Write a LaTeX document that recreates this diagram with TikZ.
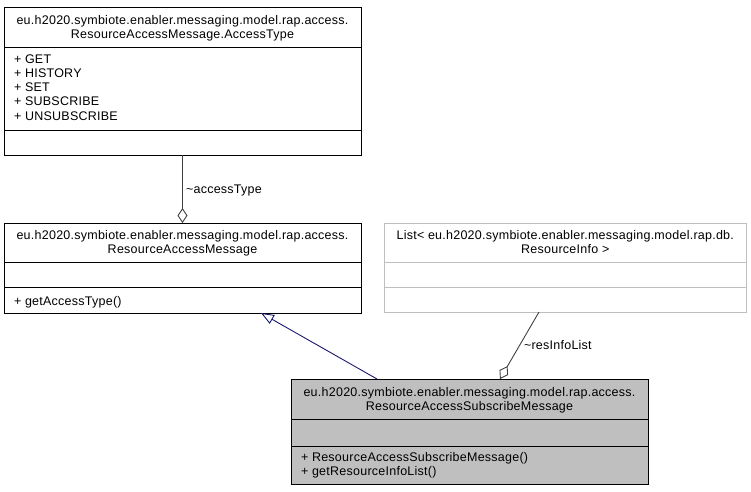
\documentclass[tikz,border=0pt]{standalone}
\usepackage{fontspec}
\setmainfont{Liberation Sans}[LetterSpace=2]
\usetikzlibrary{arrows.meta}
\definecolor{edgegray}{HTML}{404040}
\definecolor{navyline}{HTML}{191970}
\definecolor{boxgray}{HTML}{BFBFBF}
\definecolor{lightborder}{HTML}{BFBFBF}
\begin{document}
\begin{tikzpicture}[x=1pt,y=-1pt,
  classbox/.style={draw=black, line width=0.9pt, inner sep=0pt, outer sep=0pt, fill=white},
  divider/.style={draw=black, line width=0.9pt},
  txt/.style={inner sep=0pt, outer sep=0pt, font=\fontsize{12.5}{14}\selectfont},
  ctxt/.style={txt, anchor=base},
  ltxt/.style={txt, anchor=base west},
  aggline/.style={draw=edgegray, line width=0.9pt, -{Diamond[open, length=15pt, width=10pt, line width=0.9pt]}},
  inhline/.style={draw=navyline, line width=0.9pt, -{Triangle[open, length=13pt, width=10pt, line width=0.9pt]}}
]
\useasboundingbox (0,0) rectangle (751,491);

% Box A: AccessType
\node[classbox, minimum width=357pt, minimum height=148pt] (A) at (182.5,81) {};
\draw[divider] (4,47) -- (361,47);
\draw[divider] (4,130) -- (361,130);
\node[ctxt] (At1) at (182.5,24) {eu.h2020.symbiote.enabler.messaging.model.rap.access.};
\node[ctxt] (At2) at (182.5,38) {ResourceAccessMessage.AccessType};
\node[ltxt] (Aa1) at (14,63) {+ GET};
\node[ltxt] (Aa2) at (14,77.25) {+ HISTORY};
\node[ltxt] (Aa3) at (14,91.5) {+ SET};
\node[ltxt] (Aa4) at (14,105.75) {+ SUBSCRIBE};
\node[ltxt] (Aa5) at (14,120) {+ UNSUBSCRIBE};

% Box B: ResourceAccessMessage
\node[classbox, minimum width=357pt, minimum height=90pt] (B) at (182.5,268) {};
\draw[divider] (4,262) -- (361,262);
\draw[divider] (4,287) -- (361,287);
\node[ctxt] (Bt1) at (182.5,239) {eu.h2020.symbiote.enabler.messaging.model.rap.access.};
\node[ctxt] (Bt2) at (182.5,253) {ResourceAccessMessage};
\node[ltxt] (Bm1) at (14,305) {+ getAccessType()};

% Box C: List< ResourceInfo >
\node[classbox, draw=lightborder, minimum width=361.5pt, minimum height=89pt] (C) at (565.25,267.5) {};
\draw[divider, draw=lightborder] (384.5,262) -- (746,262);
\draw[divider, draw=lightborder] (384.5,287) -- (746,287);
\node[ctxt] (Ct1) at (565.25,239) {List< eu.h2020.symbiote.enabler.messaging.model.rap.db.};
\node[ctxt] (Ct2) at (565.25,253) {ResourceInfo >};

% Box D: ResourceAccessSubscribeMessage
\node[classbox, fill=boxgray, minimum width=357pt, minimum height=105pt] (D) at (469.5,431.5) {};
\draw[divider] (291,419) -- (648,419);
\draw[divider] (291,446) -- (648,446);
\node[ctxt] (Dt1) at (469.5,396) {eu.h2020.symbiote.enabler.messaging.model.rap.access.};
\node[ctxt] (Dt2) at (469.5,410) {ResourceAccessSubscribeMessage};
\node[ltxt] (Dm1) at (301,461) {+ ResourceAccessSubscribeMessage()};
\node[ltxt] (Dm2) at (301,475) {+ getResourceInfoList()};

% connectors
\coordinate (xi1) at (377,0);
\coordinate (xi2) at (261,0);
\coordinate (xr1) at (539,0);
\coordinate (xr2) at (500,0);

\draw[aggline] (A.south) -- (B.north);
\node[ltxt] (L1) at (186,193) {\textasciitilde accessType};

\draw[inhline] (D.north -| xi1) -- (B.south -| xi2);

\draw[aggline] (C.south -| xr1) -- (D.north -| xr2);
\node[ltxt] (L2) at (524,349) {\textasciitilde resInfoList};
\end{tikzpicture}
\end{document}
